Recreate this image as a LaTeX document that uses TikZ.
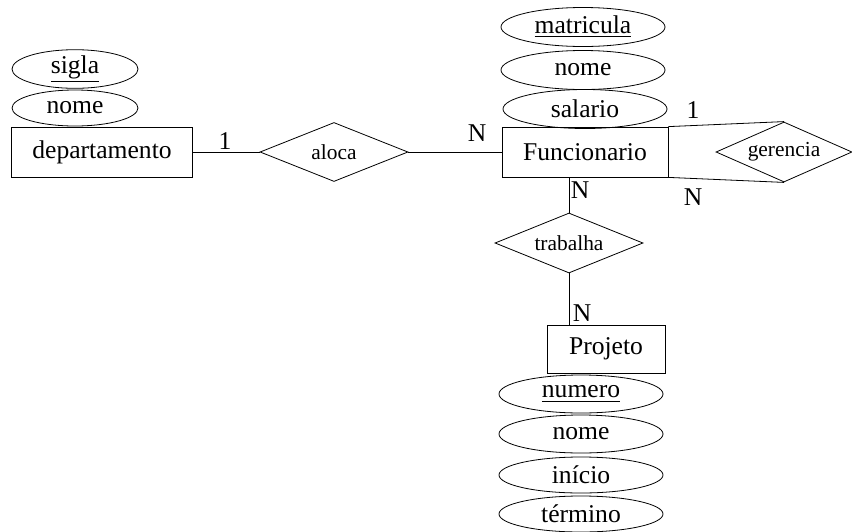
\documentclass[tikz,border=0pt]{standalone}
\usepackage{fontspec}
\setmainfont{Liberation Serif}
\usetikzlibrary{shapes.geometric}

\begin{document}
\begin{tikzpicture}[x=0.5pt,y=-0.5pt,
  entita/.style={draw, rectangle, inner sep=0pt, minimum height=25pt, font=\fontsize{12.8}{15}\selectfont},
  relazione/.style={draw, diamond, aspect=2.5, inner sep=0pt, minimum width=74pt, minimum height=29.5pt, font=\fontsize{10.7}{13}\selectfont},
  attributo/.style={draw, ellipse, inner sep=0pt, minimum width=82pt, minimum height=19.5pt, font=\fontsize{12.8}{15}\selectfont},
  card/.style={inner sep=0pt, font=\fontsize{12.8}{15}\selectfont}]
\useasboundingbox (0,0) rectangle (852,531);
% departamento, entita' a sinistra
\node[entita, minimum width=90.5pt] (dep) at (102,152) {departamento};
\node[attributo, minimum width=63pt, minimum height=17pt] (depsigla) at (75,69) {\underline{sigla}};
\node[attributo, minimum width=63pt, minimum height=18pt] (depnome) at (75,108) {nome};
% aloca, relazione tra departamento e Funcionario
\node[relazione] (aloca) at (334,152) {aloca};
\draw (dep.east) -- (aloca.west);
\node[card] (c1) at (225,141) {1};
% Funcionario, entita' centrale
\node[entita, minimum width=83pt] (func) at (585,152) {Funcionario};
\node[attributo] (funcmat) at (583,27) {\underline{matricula}};
\node[attributo] (funcnome) at (583,70) {nome};
\node[attributo] (funcsal) at (585,109) {salario};
\draw (aloca.east) -- (func.west);
\node[card] (c2) at (477,133) {N};
% gerencia, autorelazione di Funcionario
\node[relazione, minimum width=68pt, minimum height=30pt] (ger) at (784,152) {gerencia};
\draw (func.north east) -- (ger.north);
\draw (func.south east) -- (ger.south);
\node[card] (c3) at (693,110) {1};
\node[card] (c4) at (693,197) {N};
% trabalha, tra Funcionario e Projeto
\node[relazione, minimum height=30pt] (trab) at (569,243) {trabalha};
\draw (trab.north) -- (trab.north |- func.south);
\node[card] (c5) at (580,190) {N};
% Projeto, entita' in basso
\node[entita, minimum width=59pt, minimum height=24pt] (proj) at (606,349) {Projeto};
\draw (trab.south) -- (trab.south |- proj.north);
\node[card] (c6) at (582,313) {N};
\node[attributo, minimum height=19pt] (projnum) at (581,394) {\underline{numero}};
\node[attributo, minimum height=19pt] (projnome) at (581,434) {nome};
\node[attributo, minimum height=18pt] (projini) at (581,475) {início};
\node[attributo, minimum height=18pt] (projter) at (581,514) {término};
\end{tikzpicture}
\end{document}
